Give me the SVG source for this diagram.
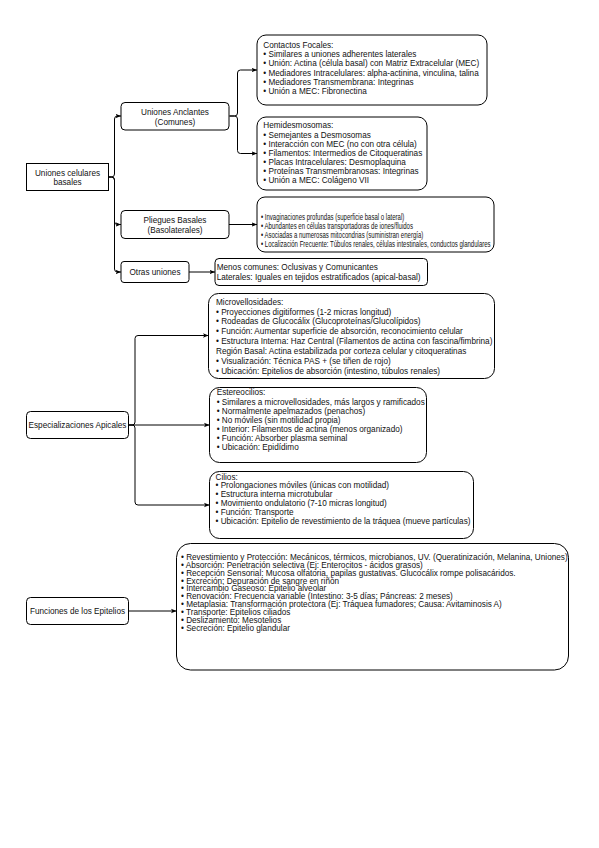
<svg xmlns="http://www.w3.org/2000/svg" width="599" height="848" viewBox="0 0 599 848">
<style>
.t{font-family:"Liberation Sans",Arial,Helvetica,sans-serif;font-size:8.2px;fill:#111}
.c{text-anchor:middle}
.b{fill:#fff;stroke:#000;stroke-width:1}
.e{fill:none;stroke:#000;stroke-width:1;marker-end:url(#a)}
</style>
<defs>
<marker id="a" markerUnits="userSpaceOnUse" markerWidth="7" markerHeight="7" refX="5.5" refY="3.5" orient="auto">
<path d="M0,1.3 L5.5,3.5 L0,5.7 L1.3,3.5 z" fill="#000"/>
</marker>
</defs>
<rect width="599" height="848" fill="#fff"/>

<g id="edges">
<path class="e" d="M108.5,177 H111.5 Q114.5,177 114.5,174 V119 Q114.5,116 117.5,116 H121"/>
<path class="e" d="M108.5,177 H111.5 Q114.5,177 114.5,180 V221.5 Q114.5,224.5 117.5,224.5 H121"/>
<path class="e" d="M108.5,177 H111.5 Q114.5,177 114.5,180 V269 Q114.5,272 117.5,272 H121"/>
<path class="e" d="M229.5,116 H234.5 Q237.5,116 237.5,113 V73 Q237.5,70 240.5,70 H257"/>
<path class="e" d="M229.5,116 H234.5 Q237.5,116 237.5,119 V150.5 Q237.5,153.5 240.5,153.5 H257"/>
<path class="e" d="M229,224.5 H257"/>
<path class="e" d="M189,272 H215"/>
<path class="e" d="M128.5,425 H132 Q135,425 135,422 V338.5 Q135,335.5 138,335.5 H208.5"/>
<path class="e" d="M128.5,425 H209.5"/>
<path class="e" d="M128.5,425 H132 Q135,425 135,428 V502 Q135,505 138,505 H209.5"/>
<path class="e" d="M128.5,611 H176.5"/>
</g>

<g id="uniones-celulares">
<rect class="b" x="26.5" y="163.5" width="82" height="27"/>
<text class="t c" x="67.5" y="175.6">Uniones celulares</text>
<text class="t c" x="67.5" y="185.2">basales</text>
</g>

<g id="uniones-anclantes">
<rect class="b" x="121" y="102.5" width="108" height="27.5" rx="4"/>
<text class="t c" x="175" y="114.6">Uniones Anclantes</text>
<text class="t c" x="175" y="124.6">(Comunes)</text>
</g>

<g id="pliegues-basales">
<rect class="b" x="121" y="210.5" width="108" height="28" rx="4"/>
<text class="t c" x="175" y="222.9">Pliegues Basales</text>
<text class="t c" x="175" y="232.9">(Basolaterales)</text>
</g>

<g id="otras-uniones">
<rect class="b" x="121" y="261.5" width="68" height="21" rx="3"/>
<text class="t c" x="155" y="275.2">Otras uniones</text>
</g>

<g id="contactos-focales">
<rect class="b" x="257" y="35" width="230" height="70" rx="9"/>
<text class="t" x="263.3" y="47.9">Contactos Focales:</text>
<text class="t" x="263.3" y="57.1">• Similares a uniones adherentes laterales</text>
<text class="t" x="263.3" y="66.3">• Unión: Actina (célula basal) con Matriz Extracelular (MEC)</text>
<text class="t" x="263.3" y="75.5">• Mediadores Intracelulares: alpha-actinina, vinculina, talina</text>
<text class="t" x="263.3" y="84.7">• Mediadores Transmembrana: Integrinas</text>
<text class="t" x="263.3" y="93.9">• Unión a MEC: Fibronectina</text>
</g>

<g id="hemidesmosomas">
<rect class="b" x="257" y="117" width="170" height="73" rx="9"/>
<text class="t" x="263.3" y="128.4">Hemidesmosomas:</text>
<text class="t" x="263.3" y="137.5">• Semejantes a Desmosomas</text>
<text class="t" x="263.3" y="146.6">• Interacción con MEC (no con otra célula)</text>
<text class="t" x="263.3" y="155.7">• Filamentos: Intermedios de Citoqueratinas</text>
<text class="t" x="263.3" y="164.8">• Placas Intracelulares: Desmoplaquina</text>
<text class="t" x="263.3" y="173.9">• Proteínas Transmembranosas: Integrinas</text>
<text class="t" x="263.3" y="183">• Unión a MEC: Colágeno VII</text>
</g>

<g id="pliegues-detalle">
<rect class="b" x="257" y="197" width="237" height="55" rx="8"/>
<g transform="translate(261 0) scale(0.737 1)">
<text class="t" x="0" y="220.5">• Invaginaciones profundas (superficie basal o lateral)</text>
<text class="t" x="0" y="229.5">• Abundantes en células transportadoras de iones/fluidos</text>
<text class="t" x="0" y="238.5">• Asociadas a numerosas mitocondrias (suministran energía)</text>
<text class="t" x="0" y="247.5">• Localización Frecuente: Túbulos renales, células intestinales, conductos glandulares</text>
</g>
</g>

<g id="otras-detalle">
<rect class="b" x="215" y="258.5" width="212.5" height="27" rx="4"/>
<text class="t" x="216.7" y="269.9">Menos comunes: Oclusivas y Comunicantes</text>
<text class="t" x="216.7" y="279.9">Laterales: Iguales en tejidos estratificados (apical-basal)</text>
</g>

<g id="especializaciones">
<rect class="b" x="26.5" y="411.5" width="102" height="27" rx="4"/>
<text class="t c" x="77.5" y="427.9">Especializaciones Apicales</text>
</g>

<g id="microvellosidades">
<rect class="b" x="208.5" y="293.5" width="286" height="85" rx="10"/>
<text class="t" x="216" y="304.6">Microvellosidades:</text>
<text class="t" x="216" y="314.5">• Proyecciones digitiformes (1-2 micras longitud)</text>
<text class="t" x="216" y="324.3">• Rodeadas de Glucocálix (Glucoproteínas/Glucolípidos)</text>
<text class="t" x="216" y="334.2">• Función: Aumentar superficie de absorción, reconocimiento celular</text>
<text class="t" x="216" y="344">• Estructura Interna: Haz Central (Filamentos de actina con fascina/fimbrina)</text>
<text class="t" x="216" y="353.9">Región Basal: Actina estabilizada por corteza celular y citoqueratinas</text>
<text class="t" x="216" y="363.8">• Visualización: Técnica PAS + (se tiñen de rojo)</text>
<text class="t" x="216" y="373.6">• Ubicación: Epitelios de absorción (intestino, túbulos renales)</text>
</g>

<g id="estereocilios">
<rect class="b" x="209.5" y="387.5" width="217" height="75" rx="10"/>
<text class="t" x="216.7" y="395.4">Estereocilios:</text>
<text class="t" x="216.7" y="404.6">• Similares a microvellosidades, más largos y ramificados</text>
<text class="t" x="216.7" y="413.7">• Normalmente apelmazados (penachos)</text>
<text class="t" x="216.7" y="422.9">• No móviles (sin motilidad propia)</text>
<text class="t" x="216.7" y="432">• Interior: Filamentos de actina (menos organizado)</text>
<text class="t" x="216.7" y="441.2">• Función: Absorber plasma seminal</text>
<text class="t" x="216.7" y="450.3">• Ubicación: Epidídimo</text>
</g>

<g id="cilios">
<rect class="b" x="209.5" y="471.5" width="264" height="67" rx="10"/>
<text class="t" x="215.5" y="479.6">Cilios:</text>
<text class="t" x="215.5" y="488.4">• Prolongaciones móviles (únicas con motilidad)</text>
<text class="t" x="215.5" y="497.2">• Estructura interna microtubular</text>
<text class="t" x="215.5" y="506">• Movimiento ondulatorio (7-10 micras longitud)</text>
<text class="t" x="215.5" y="514.8">• Función: Transporte</text>
<text class="t" x="215.5" y="523.6">• Ubicación: Epitelio de revestimiento de la tráquea (mueve partículas)</text>
</g>

<g id="funciones">
<rect class="b" x="26.5" y="597.5" width="102" height="27" rx="4"/>
<text class="t c" x="77.5" y="613.9">Funciones de los Epitelios</text>
</g>

<g id="funciones-detalle">
<rect class="b" x="176.5" y="543.5" width="392" height="126.5" rx="14"/>
<text class="t" x="181" y="559.9">• Revestimiento y Protección: Mecánicos, térmicos, microbianos, UV. (Queratinización, Melanina, Uniones)</text>
<text class="t" x="181" y="567.8">• Absorción: Penetración selectiva (Ej: Enterocitos - ácidos grasos)</text>
<text class="t" x="181" y="575.6">• Recepción Sensorial: Mucosa olfatoria, papilas gustativas. Glucocálix rompe polisacáridos.</text>
<text class="t" x="181" y="583.5">• Excreción: Depuración de sangre en riñón</text>
<text class="t" x="181" y="591.3">• Intercambio Gaseoso: Epitelio alveolar</text>
<text class="t" x="181" y="599.2">• Renovación: Frecuencia variable (Intestino: 3-5 días; Páncreas: 2 meses)</text>
<text class="t" x="181" y="607">• Metaplasia: Transformación protectora (Ej: Tráquea fumadores; Causa: Avitaminosis A)</text>
<text class="t" x="181" y="614.9">• Transporte: Epitelios ciliados</text>
<text class="t" x="181" y="622.7">• Deslizamiento: Mesotelios</text>
<text class="t" x="181" y="630.6">• Secreción: Epitelio glandular</text>
</g>
</svg>
